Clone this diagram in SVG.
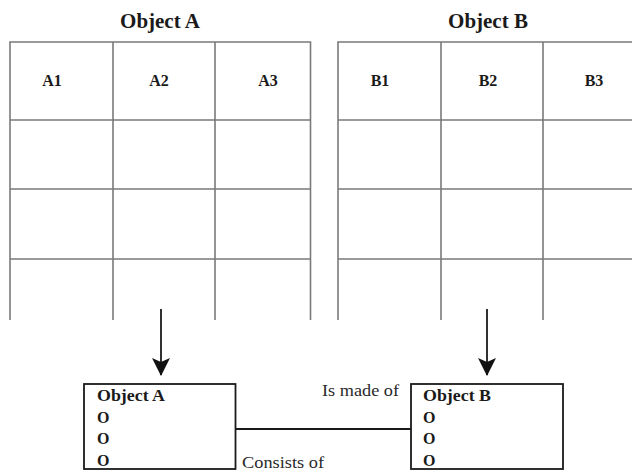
<svg xmlns="http://www.w3.org/2000/svg" width="632" height="471" viewBox="0 0 632 471">
  <style>
    .grid { stroke: #7a7a7a; stroke-width: 1.6; fill: none; }
    .box { stroke: #1a1a1a; stroke-width: 1.8; fill: #ffffff; }
    .conn { stroke: #1a1a1a; stroke-width: 1.8; fill: none; }
    .title { font-family: "Liberation Serif", "DejaVu Serif", serif; font-weight: bold; font-size: 21px; fill: #1a1a1a; text-anchor: middle; }
    .hdr { font-family: "Liberation Serif", "DejaVu Serif", serif; font-weight: bold; font-size: 16px; fill: #1a1a1a; text-anchor: middle; }
    .btxt { font-family: "Liberation Serif", "DejaVu Serif", serif; font-weight: bold; font-size: 16px; fill: #1a1a1a; }
    .lbl { font-family: "Liberation Serif", "DejaVu Serif", serif; font-size: 16.5px; fill: #2a2a2a; }
  </style>
  <defs>
    <marker id="arrow" viewBox="0 0 18 18" refX="17" refY="9" markerWidth="18" markerHeight="18" markerUnits="userSpaceOnUse" orient="auto">
      <path d="M0,0 L18,9 L0,18 L4,9 Z" fill="#111"/>
    </marker>
  </defs>
  <rect width="632" height="471" fill="#ffffff"/>

  <g id="tableA">
    <text class="title" x="160" y="28">Object A</text>
    <path class="grid" d="M10,320 V42 H310.5 V320 M113,42 V320 M215,42 V320 M10,120 H310.5 M10,189 H310.5 M10,259 H310.5"/>
    <text class="hdr" x="52" y="86">A1</text>
    <text class="hdr" x="159" y="86">A2</text>
    <text class="hdr" x="268" y="86">A3</text>
  </g>

  <g id="tableB">
    <text class="title" x="488" y="28">Object B</text>
    <path class="grid" d="M338,320 V42 H632 M441,42 V320 M543,42 V320 M338,120 H632 M338,189 H632 M338,259 H632"/>
    <text class="hdr" x="380" y="86">B1</text>
    <text class="hdr" x="488" y="86">B2</text>
    <text class="hdr" x="594" y="86">B3</text>
  </g>

  <g id="connectors">
    <line class="conn" x1="161" y1="309" x2="161" y2="375" marker-end="url(#arrow)"/>
    <line class="conn" x1="487" y1="309" x2="487" y2="375" marker-end="url(#arrow)"/>
    <line class="conn" x1="235.5" y1="429" x2="411" y2="429"/>
    <text class="lbl" x="322" y="396" textLength="77" lengthAdjust="spacingAndGlyphs">Is made of</text>
    <text class="lbl" x="242" y="468" textLength="82" lengthAdjust="spacingAndGlyphs">Consists of</text>
  </g>

  <g id="boxA">
    <rect class="box" x="84" y="384" width="151.5" height="85"/>
    <text class="btxt" x="97" y="401" textLength="68" lengthAdjust="spacingAndGlyphs">Object A</text>
    <text class="btxt" x="97" y="423">O</text>
    <text class="btxt" x="97" y="444">O</text>
    <text class="btxt" x="97" y="466">O</text>
  </g>

  <g id="boxB">
    <rect class="box" x="411" y="384" width="152" height="85"/>
    <text class="btxt" x="423" y="401" textLength="68" lengthAdjust="spacingAndGlyphs">Object B</text>
    <text class="btxt" x="423" y="423">O</text>
    <text class="btxt" x="423" y="444">O</text>
    <text class="btxt" x="423" y="466">O</text>
  </g>
</svg>
